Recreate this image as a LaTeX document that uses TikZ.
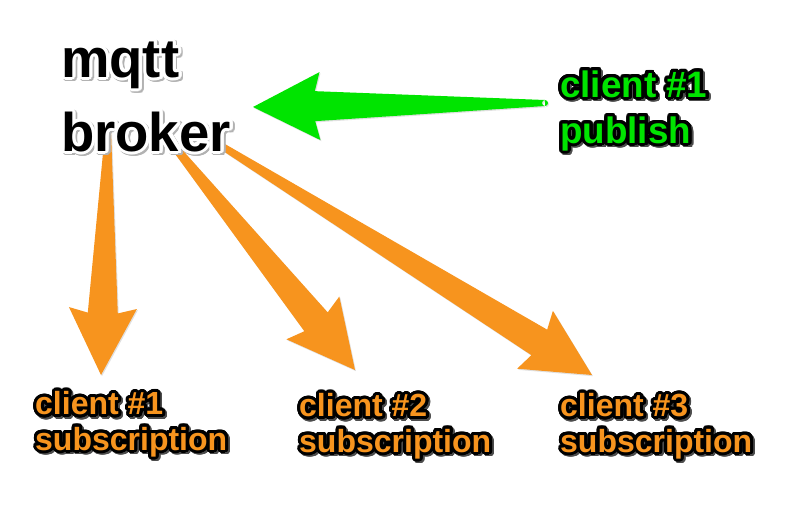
\documentclass[tikz,border=0pt]{standalone}
\usepackage{fontspec}
\setmainfont{Liberation Sans}
\usepackage{contour}
\usetikzlibrary{calc}
\contourlength{3pt}
\contournumber{32}
\definecolor{pubgreen}{RGB}{0,228,0}
\definecolor{suborange}{RGB}{247,148,30}
\tikzset{lbl/.style={inner sep=0pt, anchor=base west, align=left}}
\tikzset{big/.style={font=\fontsize{54.5}{74}\selectfont\bfseries}}
\tikzset{mid/.style={font=\fontsize{36.8}{46}\selectfont\bfseries}}
\tikzset{small/.style={font=\fontsize{32}{35.5}\selectfont\bfseries}}
% text with outline and shadow
\newcommand\halo[4]{\rlap{\hspace{1.8pt}\raisebox{-1.8pt}{\contour{#1}{\color{#1}#4}}}\contour{#2}{\color{#3}#4}}
% tapered arrow from tail #1 to tip #2
\newcommand\fatarrow[3]{%
  \fill[#3] ($(#1)!3pt!90:(#2)$)
    -- ($(#2)!62pt!(#1)!15pt!90:(#2)$)
    -- ($(#2)!67pt!(#1)!34pt!90:(#2)$)
    -- (#2)
    -- ($(#2)!67pt!(#1)!34pt!-90:(#2)$)
    -- ($(#2)!62pt!(#1)!15pt!-90:(#2)$)
    -- ($(#1)!3pt!-90:(#2)$) -- cycle
    (#1) circle [radius=3pt];}

\begin{document}
\begin{tikzpicture}[x=1pt, y=-1pt]
    \useasboundingbox (0,0) rectangle (785,522);

    \coordinate (pubtail) at (545,103);
    \coordinate (pubtip) at (253,107);
    \coordinate (subtaila) at (108,132);
    \coordinate (subtipa) at (101,375);
    \coordinate (subtailb) at (165,135);
    \coordinate (subtipb) at (355,370);
    \coordinate (subtailc) at (212,140);
    \coordinate (subtipc) at (592,375);

    \begin{scope}[transform canvas={shift={(1pt,-1.2pt)}}]
        \fatarrow{pubtail}{pubtip}{black!12}
        \fatarrow{subtaila}{subtipa}{black!12}
        \fatarrow{subtailb}{subtipb}{black!12}
        \fatarrow{subtailc}{subtipc}{black!12}
    \end{scope}
    \fatarrow{pubtail}{pubtip}{pubgreen}
    \fatarrow{subtaila}{subtipa}{suborange}
    \fatarrow{subtailb}{subtipb}{suborange}
    \fatarrow{subtailc}{subtipc}{suborange}

    \node (broker) at (61,151) [lbl, big] {\halo{black!30}{white}{black}{mqtt}\\\halo{black!30}{white}{black}{broker}};
    \node (pub) at (560,143) [lbl, mid] {\halo{black!70}{black}{pubgreen}{client \#1}\\\halo{black!70}{black}{pubgreen}{publish}};
    \node (suba) at (35,450) [lbl, small] {\halo{black!70}{black}{suborange}{client \#1}\\\halo{black!70}{black}{suborange}{subscription}};
    \node (subb) at (299,452) [lbl, small] {\halo{black!70}{black}{suborange}{client \#2}\\\halo{black!70}{black}{suborange}{subscription}};
    \node (subc) at (560,452) [lbl, small] {\halo{black!70}{black}{suborange}{client \#3}\\\halo{black!70}{black}{suborange}{subscription}};
\end{tikzpicture}
\end{document}
